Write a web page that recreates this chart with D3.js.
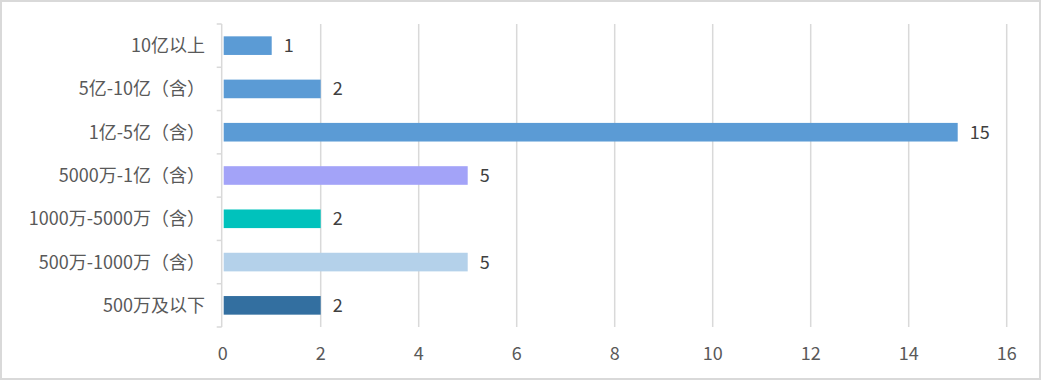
<!DOCTYPE html>
<html><head><meta charset="utf-8">
<script src="https://cdn.jsdelivr.net/npm/d3@7"></script>
<style>
html,body{margin:0;padding:0;background:#fff;}
svg{display:block;}
</style></head>
<body><svg id="c" width="1041" height="380"></svg>
<script>
const categories = ["10亿以上","5亿-10亿（含）","1亿-5亿（含）","5000万-1亿（含）","1000万-5000万（含）","500万-1000万（含）","500万及以下"];
const values = [1,2,15,5,2,5,2];
const colors = ["#5B9BD5","#5B9BD5","#5B9BD5","#A3A3F8","#00C2BC","#B4D1EA","#336FA0"];
const xTicks = [0,2,4,6,8,10,12,14,16];

(function(){
const svg = d3.select("#c");
const W = 1041, H = 380;
const font = "'Noto Sans CJK SC','Microsoft YaHei',sans-serif";

svg.append("rect").attr("x",1).attr("y",1).attr("width",W-2).attr("height",H-2)
  .attr("fill","#fff").attr("stroke","#d9d9d9").attr("stroke-width",2);

const pl = 222.7, pr = 1006.7, pt = 24, pb = 327;
const x = d3.scaleLinear().domain([0,16]).range([pl,pr]);
const y = d3.scaleBand().domain(categories).range([pt,pb]).paddingInner(0.57).paddingOuter(0.285);

svg.append("g").selectAll("line").data(xTicks.filter(t=>t>0)).join("line")
  .attr("x1",d=>x(d)).attr("x2",d=>x(d)).attr("y1",pt).attr("y2",pb)
  .attr("stroke","#d9d9d9").attr("stroke-width",1.5);

const ax = svg.append("g");
ax.append("line").attr("x1",pl-1).attr("x2",pl-1).attr("y1",pt).attr("y2",pb)
  .attr("stroke","#d9d9d9").attr("stroke-width",1.5);
const step = (pb-pt)/categories.length;
ax.selectAll("line.t").data(d3.range(categories.length+1)).join("line").attr("class","t")
  .attr("x1",pl-6).attr("x2",pl-1).attr("y1",i=>pt+i*step).attr("y2",i=>pt+i*step)
  .attr("stroke","#d9d9d9").attr("stroke-width",1.5);

svg.append("g").selectAll("rect").data(categories).join("rect")
  .attr("x",x(0)+1).attr("y",d=>y(d)).attr("height",y.bandwidth())
  .attr("width",(d,i)=>x(values[i])-x(0)-1).attr("fill",(d,i)=>colors[i]);

svg.append("g").selectAll("text").data(categories).join("text")
  .attr("x",(d,i)=>x(values[i])+12).attr("y",d=>y(d)+y.bandwidth()/2)
  .attr("dy","0.36em").attr("font-family",font).attr("font-size",18).attr("fill","#404040")
  .text((d,i)=>values[i]);

svg.append("g").selectAll("text").data(categories).join("text")
  .attr("x",205).attr("y",d=>y(d)+y.bandwidth()/2).attr("dy","0.36em")
  .attr("text-anchor","end").attr("font-family",font).attr("font-size",18).attr("fill","#595959")
  .text(d=>d);

svg.append("g").selectAll("text").data(xTicks).join("text")
  .attr("x",d=>x(d)).attr("y",354).attr("dy","0.36em").attr("text-anchor","middle")
  .attr("font-family",font).attr("font-size",18).attr("fill","#595959")
  .text(d=>d);
})();
</script></body></html>
